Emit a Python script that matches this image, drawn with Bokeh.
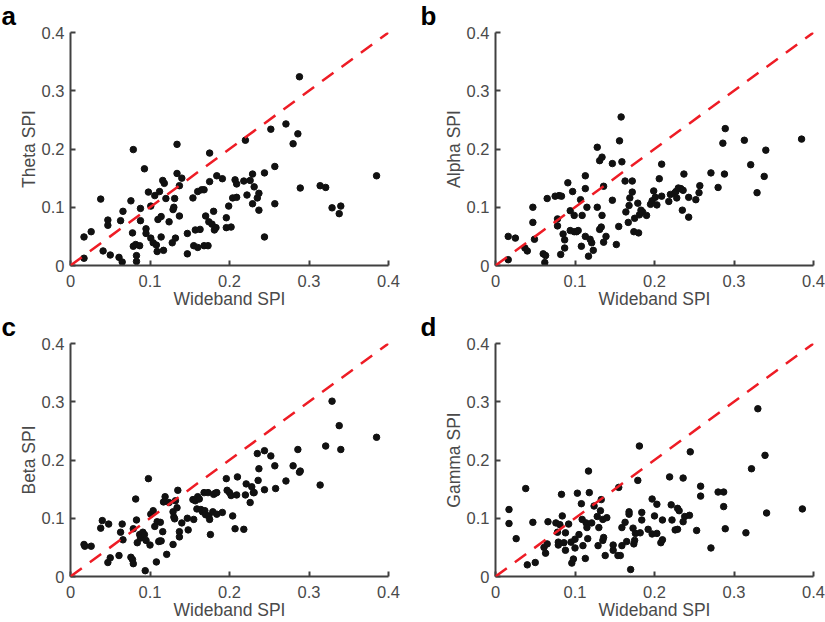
from bokeh.plotting import figure
from bokeh.layouts import row, column
from bokeh.models import Range1d, FixedTicker, Slope
from bokeh.embed import file_html
from bokeh.resources import INLINE

# ---------------- data ----------------
TICKS = [0, 0.1, 0.2, 0.3, 0.4]
TICK_LABELS = ["0", "0.1", "0.2", "0.3", "0.4"]
X_LABEL = "Wideband SPI"
PANEL_LETTERS = ["a", "b", "c", "d"]
Y_LABELS = ["Theta SPI", "Alpha SPI", "Beta SPI", "Gamma SPI"]

wide_a = [0.017, 0.017, 0.026, 0.038, 0.041, 0.047, 0.047, 0.050, 0.061, 0.063, 0.065, 0.066,
          0.076, 0.079, 0.078, 0.079, 0.082, 0.083, 0.083, 0.087, 0.088, 0.088, 0.093, 0.095,
          0.095, 0.098, 0.101, 0.101, 0.104, 0.106, 0.108, 0.109, 0.110, 0.112, 0.114, 0.114,
          0.116, 0.117, 0.118, 0.120, 0.124, 0.128, 0.129, 0.130, 0.131, 0.132, 0.134, 0.134,
          0.137, 0.137, 0.140, 0.147, 0.147, 0.154, 0.155, 0.157, 0.160, 0.160, 0.163, 0.165,
          0.168, 0.168, 0.170, 0.173, 0.174, 0.175, 0.175, 0.178, 0.180, 0.181, 0.183, 0.184,
          0.191, 0.196, 0.196, 0.199, 0.202, 0.204, 0.207, 0.209, 0.209, 0.218, 0.220, 0.222,
          0.226, 0.229, 0.229, 0.231, 0.235, 0.237, 0.237, 0.244, 0.244, 0.252, 0.257, 0.257,
          0.271, 0.280, 0.286, 0.288, 0.289, 0.314, 0.321, 0.329, 0.338, 0.340, 0.385]
theta = [0.049, 0.0125, 0.058, 0.114, 0.025, 0.078, 0.069, 0.018, 0.014, 0.077, 0.006, 0.093,
         0.111, 0.199, 0.056, 0.033, 0.036, 0.017, 0.007, 0.034, 0.098, 0.077, 0.166, 0.063,
         0.055, 0.126, 0.102, 0.047, 0.039, 0.120, 0.035, 0.024, 0.079, 0.127, 0.084, 0.049,
         0.146, 0.026, 0.141, 0.115, 0.075, 0.039, 0.096, 0.100, 0.115, 0.047, 0.208, 0.158,
         0.085, 0.137, 0.150, 0.020, 0.055, 0.116, 0.034, 0.061, 0.031, 0.127, 0.062, 0.130,
         0.130, 0.034, 0.085, 0.034, 0.075, 0.144, 0.193, 0.071, 0.093, 0.061, 0.065, 0.154,
         0.149, 0.082, 0.065, 0.102, 0.066, 0.116, 0.147, 0.140, 0.117, 0.145, 0.215, 0.121,
         0.146, 0.106, 0.157, 0.135, 0.116, 0.124, 0.095, 0.159, 0.049, 0.234, 0.170, 0.106,
         0.243, 0.209, 0.226, 0.324, 0.133, 0.137, 0.134, 0.099, 0.089, 0.102, 0.154]

wide_b = [0.016, 0.016, 0.025, 0.037, 0.040, 0.047, 0.047, 0.049, 0.060, 0.063, 0.062, 0.065,
          0.075, 0.078, 0.078, 0.080, 0.083, 0.082, 0.085, 0.087, 0.087, 0.091, 0.094, 0.094,
          0.097, 0.099, 0.099, 0.102, 0.104, 0.107, 0.109, 0.108, 0.113, 0.113, 0.113, 0.115,
          0.117, 0.119, 0.121, 0.123, 0.128, 0.128, 0.131, 0.134, 0.131, 0.133, 0.134, 0.136,
          0.136, 0.139, 0.147, 0.147, 0.152, 0.155, 0.156, 0.158, 0.159, 0.163, 0.164, 0.167,
          0.168, 0.169, 0.172, 0.172, 0.174, 0.175, 0.179, 0.180, 0.181, 0.183, 0.185, 0.190,
          0.195, 0.197, 0.199, 0.201, 0.203, 0.206, 0.209, 0.209, 0.218, 0.220, 0.225, 0.227,
          0.228, 0.230, 0.233, 0.235, 0.236, 0.237, 0.243, 0.243, 0.252, 0.256, 0.257, 0.271,
          0.280, 0.286, 0.288, 0.289, 0.313, 0.321, 0.329, 0.338, 0.340, 0.385]
alpha = [0.050, 0.010, 0.047, 0.030, 0.025, 0.100, 0.074, 0.045, 0.020, 0.017, 0.005, 0.115,
         0.119, 0.080, 0.068, 0.120, 0.119, 0.019, 0.054, 0.044, 0.030, 0.142, 0.094, 0.060,
         0.127, 0.086, 0.058, 0.058, 0.060, 0.113, 0.086, 0.033, 0.050, 0.154, 0.132, 0.100,
         0.016, 0.045, 0.039, 0.026, 0.100, 0.203, 0.180, 0.186, 0.062, 0.066, 0.086, 0.136,
         0.040, 0.050, 0.175, 0.112, 0.036, 0.067, 0.214, 0.255, 0.178, 0.145, 0.092, 0.074,
         0.103, 0.116, 0.145, 0.126, 0.058, 0.081, 0.107, 0.056, 0.087, 0.095, 0.092, 0.086,
         0.105, 0.111, 0.128, 0.117, 0.104, 0.149, 0.174, 0.119, 0.110, 0.122, 0.124, 0.127,
         0.116, 0.133, 0.132, 0.095, 0.129, 0.157, 0.117, 0.083, 0.113, 0.125, 0.137, 0.159,
         0.134, 0.210, 0.157, 0.235, 0.215, 0.173, 0.125, 0.153, 0.198, 0.217]

wide_c = [0.017, 0.018, 0.026, 0.038, 0.040, 0.048, 0.047, 0.050, 0.061, 0.063, 0.065, 0.066,
          0.076, 0.078, 0.079, 0.079, 0.082, 0.083, 0.084, 0.087, 0.088, 0.091, 0.093, 0.094,
          0.095, 0.098, 0.100, 0.101, 0.104, 0.106, 0.108, 0.109, 0.111, 0.112, 0.113, 0.114,
          0.116, 0.117, 0.119, 0.121, 0.124, 0.129, 0.129, 0.130, 0.131, 0.132, 0.134, 0.135,
          0.137, 0.137, 0.140, 0.147, 0.148, 0.154, 0.155, 0.157, 0.159, 0.160, 0.162, 0.164,
          0.166, 0.168, 0.169, 0.170, 0.173, 0.174, 0.175, 0.176, 0.179, 0.180, 0.182, 0.184,
          0.184, 0.191, 0.196, 0.197, 0.200, 0.202, 0.204, 0.207, 0.209, 0.210, 0.218, 0.220,
          0.221, 0.226, 0.228, 0.230, 0.231, 0.235, 0.236, 0.237, 0.244, 0.244, 0.252, 0.257,
          0.258, 0.271, 0.280, 0.286, 0.288, 0.289, 0.314, 0.321, 0.329, 0.338, 0.340, 0.385]
beta = [0.055, 0.052, 0.052, 0.083, 0.096, 0.090, 0.024, 0.032, 0.036, 0.076, 0.090, 0.063,
        0.033, 0.029, 0.022, 0.082, 0.133, 0.097, 0.058, 0.072, 0.066, 0.076, 0.072, 0.010,
        0.062, 0.168, 0.054, 0.107, 0.113, 0.086, 0.025, 0.094, 0.060, 0.061, 0.093, 0.061,
        0.077, 0.128, 0.137, 0.038, 0.127, 0.055, 0.111, 0.102, 0.099, 0.130, 0.118, 0.148,
        0.077, 0.068, 0.092, 0.100, 0.080, 0.132, 0.098, 0.130, 0.116, 0.137, 0.133, 0.115,
        0.111, 0.144, 0.113, 0.106, 0.144, 0.104, 0.098, 0.072, 0.111, 0.141, 0.143, 0.144,
        0.107, 0.110, 0.168, 0.148, 0.144, 0.139, 0.104, 0.082, 0.140, 0.171, 0.081, 0.140,
        0.159, 0.127, 0.154, 0.144, 0.144, 0.211, 0.165, 0.185, 0.216, 0.149, 0.207, 0.190,
        0.151, 0.164, 0.190, 0.218, 0.179, 0.181, 0.157, 0.224, 0.301, 0.259, 0.218, 0.239]

wide_d = [0.017, 0.017, 0.026, 0.038, 0.040, 0.047, 0.050, 0.061, 0.063, 0.065, 0.066, 0.076,
          0.078, 0.079, 0.079, 0.081, 0.083, 0.084, 0.086, 0.088, 0.088, 0.092, 0.095, 0.096,
          0.098, 0.100, 0.100, 0.103, 0.105, 0.108, 0.109, 0.110, 0.113, 0.114, 0.115, 0.116,
          0.117, 0.118, 0.121, 0.124, 0.128, 0.129, 0.130, 0.132, 0.133, 0.135, 0.135, 0.136,
          0.138, 0.140, 0.148, 0.148, 0.154, 0.155, 0.157, 0.159, 0.159, 0.163, 0.165, 0.168,
          0.168, 0.170, 0.173, 0.174, 0.175, 0.176, 0.179, 0.181, 0.182, 0.184, 0.184, 0.192,
          0.197, 0.197, 0.200, 0.203, 0.203, 0.208, 0.210, 0.210, 0.219, 0.221, 0.222, 0.226,
          0.229, 0.229, 0.231, 0.236, 0.236, 0.238, 0.244, 0.245, 0.253, 0.258, 0.258, 0.271,
          0.280, 0.287, 0.287, 0.289, 0.315, 0.322, 0.330, 0.339, 0.341, 0.386]
gamma = [0.115, 0.091, 0.065, 0.151, 0.020, 0.093, 0.024, 0.050, 0.040, 0.056, 0.094, 0.092,
         0.076, 0.059, 0.054, 0.089, 0.141, 0.104, 0.058, 0.075, 0.045, 0.090, 0.059, 0.023,
         0.030, 0.064, 0.049, 0.143, 0.072, 0.125, 0.098, 0.053, 0.031, 0.092, 0.084, 0.065,
         0.181, 0.144, 0.092, 0.121, 0.103, 0.053, 0.084, 0.113, 0.132, 0.098, 0.062, 0.067,
         0.036, 0.101, 0.054, 0.045, 0.036, 0.153, 0.036, 0.084, 0.053, 0.093, 0.060, 0.111,
         0.107, 0.012, 0.083, 0.056, 0.062, 0.074, 0.165, 0.224, 0.075, 0.097, 0.110, 0.081,
         0.073, 0.133, 0.104, 0.074, 0.124, 0.058, 0.063, 0.097, 0.171, 0.123, 0.097, 0.080,
         0.117, 0.081, 0.113, 0.169, 0.094, 0.103, 0.105, 0.214, 0.079, 0.155, 0.138, 0.049,
         0.145, 0.145, 0.120, 0.082, 0.075, 0.185, 0.288, 0.208, 0.109, 0.116]

PANELS = [(wide_a, theta), (wide_b, alpha), (wide_c, beta), (wide_d, gamma)]

# ---------------- styling ----------------
FONT = "Liberation Sans"
AX_COL = "#404040"
TXT_COL = "#4a4a4a"

COL_W = [420, 405]
BORDER_L = [70, 75]
FRAME_W = [318, 318]
ROW_H = [311, 311]
BORDER_T = [32, 32]
FRAME_H = [234, 234]
LETTER_LEFT = [1, 0]   # canvas x of the panel letters, per column


def make_panel(i):
    c, r = i % 2, i // 2
    xs, ys = PANELS[i]
    p = figure(width=COL_W[c], height=ROW_H[r], output_backend="svg", toolbar_location=None,
               x_range=Range1d(0, 0.4), y_range=Range1d(0, 0.4))
    p.min_border_left = BORDER_L[c]
    p.min_border_right = COL_W[c] - BORDER_L[c] - FRAME_W[c]
    p.min_border_top = BORDER_T[r]
    p.min_border_bottom = ROW_H[r] - BORDER_T[r] - FRAME_H[r]
    p.outline_line_color = None
    p.grid.visible = False
    p.background_fill_color = "white"
    p.border_fill_color = "white"

    # panel letter as a left-aligned title pulled into the left margin
    p.title.text = PANEL_LETTERS[i]
    p.title.align = "left"
    p.title.offset = LETTER_LEFT[c] - BORDER_L[c]
    p.title.standoff = 0
    p.title.vertical_align = "top"
    p.title.text_font = FONT
    p.title.text_font_style = "bold"
    p.title.text_font_size = "26px"
    p.title.text_color = "black"

    overrides = {t: l for t, l in zip(TICKS, TICK_LABELS)}
    for ax in (p.xaxis[0], p.yaxis[0]):
        ax.ticker = FixedTicker(ticks=TICKS)
        ax.major_label_overrides = overrides
        ax.axis_line_color = AX_COL
        ax.axis_line_width = 2
        ax.major_tick_line_color = AX_COL
        ax.major_tick_line_width = 2
        ax.major_tick_in = 5
        ax.major_tick_out = 0
        ax.minor_tick_line_color = None
        ax.major_label_text_font = FONT
        ax.major_label_text_font_size = "16.5px"
        ax.major_label_text_color = TXT_COL
        ax.axis_label_text_font = FONT
        ax.axis_label_text_font_size = "17.5px"
        ax.axis_label_text_font_style = "normal"
        ax.axis_label_text_color = TXT_COL

    p.xaxis.axis_label = X_LABEL
    p.yaxis.axis_label = Y_LABELS[i]
    p.xaxis.major_label_standoff = 9
    p.xaxis.axis_label_standoff = -1
    p.yaxis.major_label_standoff = 6
    p.yaxis.axis_label_standoff = 0

    p.add_layout(Slope(gradient=1, y_intercept=0, line_color="#ee1c25", line_width=2.5,
                       line_dash="14 10"))
    p.scatter(xs, ys, size=6.5, color="#111111", line_color="#111111")
    return p


panels = [make_panel(i) for i in range(4)]
layout = column(row(panels[0], panels[1]), row(panels[2], panels[3]))

open("out.html", "w").write(file_html(layout, INLINE))
